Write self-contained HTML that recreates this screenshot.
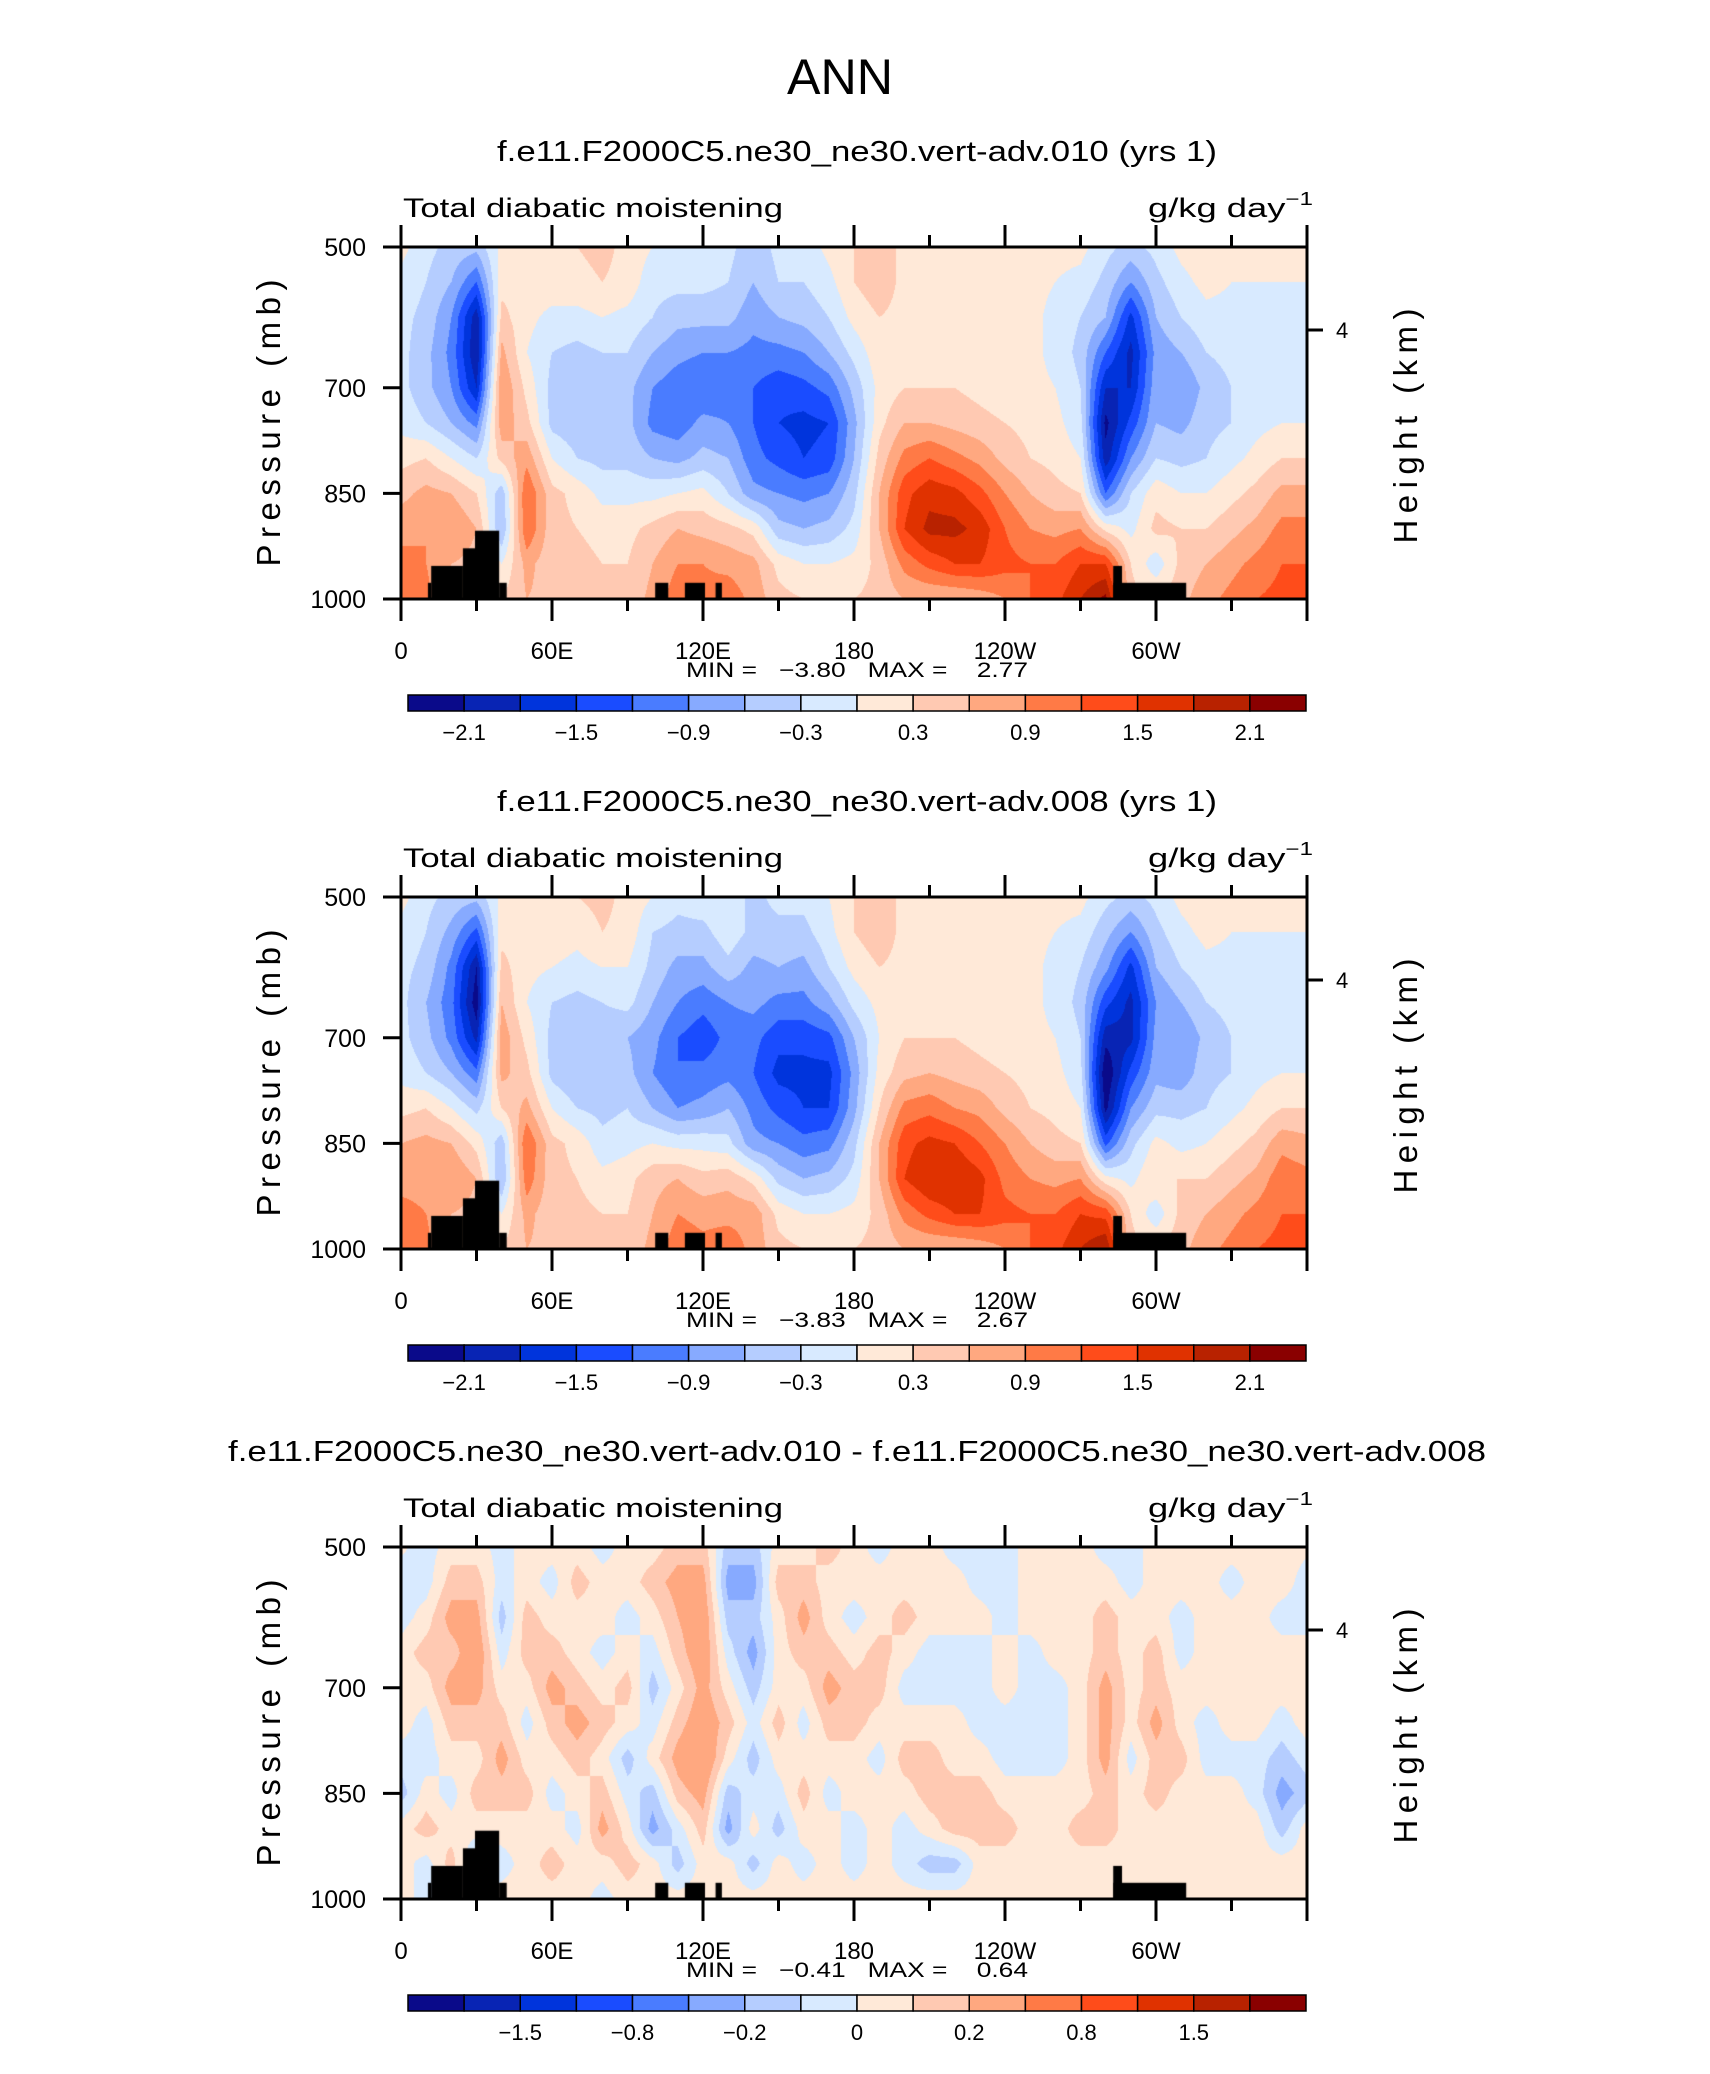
<!DOCTYPE html>
<html><head><meta charset="utf-8"><style>
html,body{margin:0;padding:0;background:#fff;}
#root{position:relative;width:1710px;height:2074px;overflow:hidden;background:#fff;}
canvas{position:absolute;}
svg{position:absolute;left:0;top:0;}
text{font-family:"Liberation Sans",sans-serif;fill:#000;}
.pre{white-space:pre;}
</style></head><body>
<div id="root">
<svg id="svg" width="1710" height="2074">
<text x="840" y="94" font-size="50" text-anchor="middle" textLength="106" lengthAdjust="spacingAndGlyphs" font-weight="300">ANN</text>
</svg>
</div>
<script>
// ---- data: columns at lon 0,10,...,360; each column levels 500,550,...,1000 mb ----
const lons = [0,10,20,30,40,50,60,70,80,90,100,110,120,130,140,150,160,170,180,190,200,210,220,230,240,250,260,270,280,290,300,310,320,330,340,350,360];
const levels = [500,550,600,650,700,750,800,850,900,950,1000];
const xTickLabels = ["0","60E","120E","180","120W","60W"];
const xTickLons = [0,60,120,180,240,300];
const yTickLabels = ["500","700","850","1000"];
const yTickValues = [500,700,850,1000];
const cbLabels1 = ["-2.1","-1.5","-0.9","-0.3","0.3","0.9","1.5","2.1"];
const cbLevels1 = [-2.1,-1.8,-1.5,-1.2,-0.9,-0.6,-0.3,0,0.3,0.6,0.9,1.2,1.5,1.8,2.1];
const cbLabels3 = ["-1.5","-0.8","-0.2","0","0.2","0.8","1.5"];
const cbLevels3 = [-2,-1.5,-1,-0.8,-0.4,-0.2,-0.1,0,0.1,0.2,0.4,0.8,1,1.5,2];
const palette = ["#0a0a8a","#0824b4","#0034dc","#1a4cff","#4a7cff","#87aaff","#b5cdff","#d8eaff","#ffe9d8","#ffc9b2","#ffa880","#ff7a46","#ff4c1a","#e03200","#b82200","#8a0000"];
// topography: [lonStart, lonEnd, topPressure]
const topo = [[10.7,12,977],[12,24.6,953],[24.6,29.4,928],[29.4,39,903],[39,42,977],[101,106.2,977],[112.8,120.8,977],[125,127.5,977],[283,286.5,953],[283,312,977]];

const data1 = [
[0.1,-0.1,-0.2,-0.2,-0.2,-0.1,0.2,0.5,0.8,1.0,1.2],
[-0.2,-0.3,-0.4,-0.5,-0.5,-0.3,0.3,0.7,0.9,0.9,1.0],
[-0.4,-0.6,-0.9,-1.0,-0.9,-0.6,0.0,0.6,0.9,0.6,0.5],
[-0.5,-1.2,-2.0,-2.1,-1.8,-1.0,-0.3,0.3,0.6,0.5,0.5],
[0.1,0.2,0.4,0.7,0.9,0.8,0.4,-0.5,-0.6,0.0,0.3],
[0.2,0.2,0.1,0.0,0.2,0.4,0.8,1.2,1.2,0.7,0.6],
[0.2,0.2,-0.1,-0.3,-0.4,-0.4,0.0,0.4,0.4,0.4,0.5],
[0.3,0.2,-0.1,-0.4,-0.5,-0.5,-0.3,0.2,0.3,0.4,0.5],
[0.4,0.3,0.0,-0.3,-0.5,-0.5,-0.4,-0.1,0.2,0.3,0.4],
[0.2,0.2,-0.1,-0.3,-0.5,-0.5,-0.4,-0.1,0.2,0.3,0.4],
[0.0,-0.2,-0.3,-0.6,-0.9,-1.0,-0.6,-0.1,0.4,0.6,0.7],
[-0.1,-0.2,-0.5,-0.8,-1.1,-1.1,-0.7,0.0,0.6,0.9,1.1],
[0.0,-0.2,-0.5,-0.9,-1.2,-0.8,-0.5,0.1,0.5,0.9,1.0],
[-0.2,-0.3,-0.5,-0.9,-1.1,-0.9,-0.6,-0.3,0.4,0.8,1.1],
[-0.5,-0.6,-0.8,-1.0,-1.2,-1.2,-1.1,-0.8,0.2,0.7,0.8],
[-0.2,-0.3,-0.6,-1.0,-1.4,-1.5,-1.3,-0.9,-0.5,0.2,0.4],
[-0.2,-0.3,-0.5,-0.9,-1.3,-1.6,-1.5,-1.0,-0.6,0.0,0.3],
[0.1,-0.1,-0.3,-0.6,-1.1,-1.5,-1.4,-0.9,-0.5,0.0,0.3],
[0.3,0.3,0.1,-0.2,-0.5,-0.7,-0.6,-0.4,-0.2,0.1,0.3],
[0.5,0.5,0.3,0.2,0.1,0.2,0.4,0.6,0.6,0.4,0.4],
[0.2,0.2,0.2,0.2,0.3,0.6,1.0,1.4,1.5,1.0,0.6],
[0.1,0.1,0.1,0.2,0.3,0.6,1.2,1.7,1.9,1.3,0.6],
[0.1,0.1,0.1,0.1,0.3,0.5,1.0,1.6,1.9,1.5,0.6],
[0.1,0.1,0.1,0.1,0.2,0.4,0.8,1.3,1.7,1.5,0.7],
[0.1,0.1,0.1,0.1,0.1,0.3,0.5,0.9,1.2,1.3,0.9],
[0.1,0.1,0.1,0.1,0.1,0.2,0.3,0.6,0.9,1.2,1.2],
[0.1,0.0,-0.1,-0.1,0.0,0.1,0.2,0.4,0.8,1.2,1.4],
[0.1,-0.1,-0.3,-0.4,-0.3,-0.2,0.0,0.3,0.9,1.5,1.8],
[-0.2,-0.4,-0.6,-1.2,-1.8,-2.2,-2.0,-1.2,0.2,1.5,2.2],
[-0.4,-0.9,-1.6,-1.9,-1.8,-1.4,-0.9,-0.3,-0.1,0.3,0.4],
[-0.2,-0.4,-0.6,-0.8,-0.7,-0.6,-0.3,0.2,0.4,-0.2,0.3],
[0.1,-0.1,-0.3,-0.6,-0.9,-0.7,-0.4,0.0,0.3,0.4,0.5],
[0.2,0.1,-0.1,-0.3,-0.5,-0.4,-0.3,0.0,0.3,0.6,0.8],
[0.1,0.0,-0.1,-0.2,-0.3,-0.3,-0.1,0.2,0.5,0.8,1.0],
[0.1,0.0,-0.1,-0.2,-0.2,-0.1,0.1,0.4,0.7,1.0,1.2],
[0.1,0.0,-0.1,-0.2,-0.2,0.0,0.3,0.7,1.0,1.2,1.3],
[0.1,0.0,-0.1,-0.2,-0.2,0.0,0.3,0.7,1.0,1.2,1.4]];

const data2 = [
[0.1,-0.1,-0.2,-0.2,-0.2,-0.1,0.2,0.6,0.8,1.0,1.2],
[-0.2,-0.3,-0.4,-0.6,-0.5,-0.3,0.3,0.7,0.8,0.9,1.0],
[-0.4,-0.7,-1.0,-1.1,-1.0,-0.6,0.0,0.6,0.9,0.6,0.5],
[-0.5,-1.3,-2.1,-2.3,-1.9,-1.1,-0.4,0.2,0.6,0.5,0.5],
[0.1,0.2,0.4,0.6,0.8,0.7,0.3,-0.5,-0.6,0.0,0.3],
[0.2,0.2,0.1,0.0,0.2,0.4,0.7,1.2,1.1,0.7,0.6],
[0.2,0.2,0.0,-0.3,-0.4,-0.4,0.0,0.4,0.4,0.4,0.5],
[0.3,0.1,-0.1,-0.4,-0.6,-0.6,-0.3,0.2,0.3,0.4,0.5],
[0.4,0.3,0.0,-0.3,-0.5,-0.6,-0.4,-0.2,0.1,0.3,0.4],
[0.2,0.2,0.0,-0.2,-0.6,-0.5,-0.3,-0.1,0.2,0.3,0.4],
[0.0,-0.3,-0.4,-0.6,-0.8,-0.9,-0.6,0.0,0.5,0.6,0.7],
[-0.2,-0.4,-0.7,-0.9,-1.2,-1.2,-0.9,-0.1,0.6,0.9,1.1],
[-0.1,-0.4,-0.7,-1.1,-1.4,-1.1,-0.8,-0.1,0.4,0.8,1.0],
[-0.1,-0.1,-0.4,-0.9,-1.1,-1.0,-0.6,-0.2,0.5,0.8,1.1],
[-0.4,-0.4,-0.7,-0.8,-1.1,-1.2,-1.0,-0.8,0.2,0.8,0.8],
[-0.2,-0.4,-0.6,-1.0,-1.4,-1.6,-1.3,-0.9,-0.4,0.2,0.4],
[-0.2,-0.4,-0.7,-1.0,-1.4,-1.6,-1.5,-1.1,-0.6,0.0,0.3],
[0.0,-0.1,-0.3,-0.7,-1.3,-1.6,-1.5,-1.0,-0.5,0.0,0.3],
[0.3,0.3,0.1,-0.2,-0.6,-0.8,-0.7,-0.4,-0.2,0.1,0.3],
[0.5,0.5,0.3,0.1,0.0,0.1,0.3,0.6,0.6,0.4,0.4],
[0.2,0.2,0.2,0.2,0.3,0.5,1.0,1.4,1.5,1.0,0.6],
[0.1,0.1,0.1,0.2,0.3,0.6,1.1,1.6,1.8,1.3,0.6],
[0.1,0.1,0.1,0.1,0.3,0.5,0.9,1.5,1.8,1.5,0.6],
[0.1,0.1,0.1,0.1,0.2,0.4,0.8,1.2,1.6,1.5,0.7],
[0.1,0.1,0.1,0.1,0.1,0.3,0.5,0.9,1.1,1.3,0.9],
[0.1,0.1,0.1,0.1,0.1,0.2,0.3,0.6,0.9,1.2,1.2],
[0.1,0.0,-0.1,-0.1,0.0,0.1,0.2,0.4,0.8,1.2,1.4],
[0.1,-0.1,-0.3,-0.4,-0.3,-0.2,0.0,0.3,0.9,1.5,1.8],
[-0.2,-0.5,-0.8,-1.4,-2.0,-2.4,-2.2,-1.3,0.1,1.4,2.1],
[-0.4,-0.9,-1.6,-1.9,-1.9,-1.4,-0.9,-0.4,-0.1,0.3,0.4],
[-0.2,-0.4,-0.6,-0.9,-0.8,-0.7,-0.4,0.1,0.3,-0.2,0.3],
[0.1,-0.1,-0.3,-0.6,-0.9,-0.8,-0.4,-0.1,0.3,0.4,0.5],
[0.2,0.1,-0.1,-0.3,-0.5,-0.4,-0.3,0.0,0.3,0.6,0.8],
[0.1,0.0,-0.1,-0.2,-0.3,-0.3,-0.1,0.2,0.5,0.8,1.0],
[0.1,0.0,-0.1,-0.2,-0.2,-0.1,0.1,0.4,0.7,1.0,1.2],
[0.1,0.0,-0.1,-0.2,-0.2,0.0,0.3,0.8,1.1,1.2,1.3],
[0.1,0.0,-0.1,-0.2,-0.2,0.0,0.3,0.7,1.0,1.2,1.4]];

const data3 = [
[0.02,-0.05,-0.05,0.05,0.05,0.05,-0.05,-0.15,0.05,0.05,0.05],
[-0.05,-0.05,0.05,0.15,0.05,-0.05,-0.05,0.05,0.15,-0.05,-0.05],
[0.05,0.15,0.25,0.15,0.25,0.15,0.05,-0.05,0.05,0.15,0.05],
[0.05,0.15,0.25,0.3,0.25,0.15,0.05,0.15,0.05,-0.15,0.05],
[-0.05,-0.05,-0.15,-0.05,0.05,0.15,0.25,0.15,0.05,-0.05,0.05],
[0.05,0.05,0.15,0.15,0.05,-0.05,0.05,0.15,0.05,0.05,0.05],
[0.05,-0.05,0.05,0.15,0.25,0.15,0.05,-0.05,0.05,0.15,0.05],
[0.05,0.15,0.05,0.05,0.15,0.25,0.15,0.05,-0.05,0.05,0.05],
[-0.05,0.05,0.05,-0.05,0.05,0.15,0.05,0.15,0.25,0.05,-0.05],
[0.05,0.05,-0.05,0.05,0.15,0.05,-0.15,-0.05,0.05,0.15,0.05],
[0.05,0.15,0.05,-0.05,-0.15,-0.05,0.05,-0.15,-0.25,0.05,0.05],
[0.15,0.25,0.2,0.15,0.05,0.15,0.25,0.15,-0.05,-0.15,0.05],
[0.15,0.25,0.3,0.3,0.25,0.3,0.35,0.25,0.15,0.05,0.05],
[-0.15,-0.25,-0.15,-0.05,0.05,0.15,0.05,-0.15,-0.25,0.05,0.05],
[-0.15,-0.25,-0.15,-0.25,-0.15,-0.05,-0.15,-0.05,0.05,-0.15,0.05],
[0.05,0.15,0.05,0.05,0.05,0.15,0.05,-0.05,-0.15,0.05,0.05],
[0.05,0.15,0.25,0.15,0.05,-0.05,0.05,0.15,0.05,-0.05,0.05],
[0.15,0.05,0.05,0.15,0.25,0.15,0.05,-0.05,0.05,0.05,0.05],
[0.05,0.05,-0.05,0.05,0.15,0.15,0.05,0.05,-0.05,-0.05,0.05],
[-0.05,0.05,0.05,0.15,0.15,0.05,-0.05,0.05,0.05,0.05,0.05],
[0.05,0.05,0.15,0.05,-0.05,0.05,0.15,0.05,-0.05,-0.05,0.05],
[0.05,0.05,0.05,-0.05,-0.05,0.05,0.15,0.15,0.05,-0.15,0.05],
[-0.05,0.05,0.05,-0.05,-0.05,0.05,0.05,0.15,0.15,-0.15,0.05],
[-0.05,-0.05,0.05,-0.05,-0.05,-0.05,0.05,0.15,0.15,0.05,0.05],
[-0.05,-0.05,-0.05,0.05,0.05,-0.05,-0.05,0.05,0.15,0.05,0.05],
[0.05,0.05,0.05,-0.05,-0.05,-0.05,-0.05,0.05,0.05,0.05,0.05],
[0.05,0.05,0.05,0.05,-0.05,-0.05,-0.05,0.05,0.05,0.05,0.05],
[0.05,0.05,0.05,0.05,0.05,0.05,0.05,0.05,0.15,0.05,0.05],
[-0.05,0.05,0.15,0.15,0.25,0.25,0.25,0.15,0.15,0.05,0.05],
[-0.05,-0.05,0.05,0.05,0.05,0.05,-0.05,0.05,0.05,0.05,0.05],
[0.05,0.05,0.05,0.15,0.15,0.25,0.15,0.15,0.05,0.05,0.05],
[0.05,0.05,-0.05,-0.05,0.05,0.05,0.15,0.05,0.05,0.05,0.05],
[0.05,0.05,0.05,0.05,0.05,-0.05,-0.05,0.05,0.05,0.05,0.05],
[0.05,-0.05,0.05,0.05,0.05,0.05,-0.05,0.05,0.05,0.05,0.05],
[0.05,0.05,0.05,0.05,0.05,0.05,-0.05,-0.05,0.05,0.05,0.05],
[0.05,0.05,-0.05,0.05,0.05,-0.05,-0.15,-0.25,-0.15,0.05,0.05],
[0.02,-0.05,-0.05,0.05,0.05,0.05,-0.05,-0.15,0.05,0.05,0.05]];

const titles = ["f.e11.F2000C5.ne30_ne30.vert-adv.010 (yrs 1)","f.e11.F2000C5.ne30_ne30.vert-adv.008 (yrs 1)","f.e11.F2000C5.ne30_ne30.vert-adv.010 - f.e11.F2000C5.ne30_ne30.vert-adv.008"];
const minMax = [["-3.80","2.77"],["-3.83","2.67"],["-0.41","0.64"]];

const PL=401, PW=906, PH=352;
const panelTops=[247,897,1547];
const titleLens=[720,720,1258];
const NS="http://www.w3.org/2000/svg";
const svg=document.getElementById('svg');
const root=document.getElementById('root');

function xOf(lon){return PL + lon/360*PW;}
function yOf(p,top){return top + (p-500)/500*PH;}
function mk(tag,attrs,txt){const e=document.createElementNS(NS,tag);for(const k in attrs)e.setAttribute(k,attrs[k]);if(txt!==undefined)e.textContent=txt;svg.appendChild(e);return e;}
function levelIndex(v,lv){let i=0;while(i<lv.length&&v>=lv[i])i++;return i;}
function hex(c){return [parseInt(c.slice(1,3),16),parseInt(c.slice(3,5),16),parseInt(c.slice(5,7),16)];}
const pal=palette.map(hex);

function sample(data,lon,p){
  let fx=lon/10, fy=(p-500)/50;
  let i=Math.min(Math.floor(fx),35), j=Math.min(Math.floor(fy),9);
  let tx=fx-i, ty=fy-j;
  const a=data[i][j],b=data[i+1][j],c=data[i][j+1],d=data[i+1][j+1];
  return (a*(1-tx)+b*tx)*(1-ty)+(c*(1-tx)+d*tx)*ty;
}

const datasets=[data1,data2,data3];
const cbLevs=[cbLevels1,cbLevels1,cbLevels3];
const cbLabs=[cbLabels1,cbLabels1,cbLabels3];
const cbLabelStart=[1,1,2];

for(let k=0;k<3;k++){
  const top=panelTops[k], data=datasets[k], lv=cbLevs[k];
  const cv=document.createElement('canvas');
  cv.width=PW;cv.height=PH;cv.style.left=PL+'px';cv.style.top=top+'px';
  
  
  root.insertBefore(cv,svg);
  const ctx=cv.getContext('2d');
  const img=ctx.createImageData(PW,PH);
  for(let y=0;y<PH;y++){
    const p=500+(y+0.5)/PH*500;
    for(let x=0;x<PW;x++){
      const lon=(x+0.5)/PW*360;
      const v=sample(data,lon,p);
      const c=pal[levelIndex(v,lv)];
      const o=(y*PW+x)*4;
      img.data[o]=c[0];img.data[o+1]=c[1];img.data[o+2]=c[2];img.data[o+3]=255;
    }
  }
  ctx.putImageData(img,0,0);
  ctx.fillStyle='#000';
  topo.forEach(t=>{
    const x0=t[0]/360*PW, x1=t[1]/360*PW, y0=(t[2]-500)/500*PH;
    ctx.fillRect(x0,y0,x1-x0,PH-y0);
  });
  const fr=mk('rect',{x:PL,y:top,width:PW,height:PH,fill:'none',stroke:'#000','stroke-width':3});
  
  
  for(let lon=0;lon<=360;lon+=30){
    const major=lon%60===0, len=major?22:12, x=xOf(lon);
    const t1=mk('line',{x1:x,y1:top,x2:x,y2:top-len,stroke:'#000','stroke-width':3});
    
    
    const t2=mk('line',{x1:x,y1:top+PH,x2:x,y2:top+PH+len,stroke:'#000','stroke-width':3});
    
    
  }
  xTickLabels.forEach((s,i)=>{
    const t=mk('text',{x:xOf(xTickLons[i]),y:top+PH+60,'font-size':24,'text-anchor':'middle'},s);
    
    
  });
  yTickValues.forEach((p,i)=>{
    const y=yOf(p,top);
    const l=mk('line',{x1:PL-18,y1:y,x2:PL,y2:y,stroke:'#000','stroke-width':3});
    
    
    const t=mk('text',{x:366,y:y+9,'font-size':25,'text-anchor':'end'},yTickLabels[i]);
    
    
  });
  const rt=mk('line',{x1:PL+PW,y1:top+83,x2:PL+PW+16,y2:top+83,stroke:'#000','stroke-width':3});
  
  
  const rl=mk('text',{x:1336,y:top+91,'font-size':22},'4');
  
  
  const ya=mk('text',{x:0,y:0,'font-size':33,'text-anchor':'middle',textLength:287,lengthAdjust:'spacing',transform:`translate(280,${top+176}) rotate(-90)`},'Pressure (mb)');
  
  
  const ya2=mk('text',{x:0,y:0,'font-size':33,'text-anchor':'middle',textLength:235,lengthAdjust:'spacing',transform:`translate(1417,${top+179}) rotate(-90)`},'Height (km)');
  
  
  const ti=mk('text',{x:857,y:top-86,'font-size':29,'text-anchor':'middle',textLength:titleLens[k],lengthAdjust:'spacingAndGlyphs'},titles[k]);
  
  
  const vl=mk('text',{x:403,y:top-30,'font-size':27,textLength:380,lengthAdjust:'spacingAndGlyphs'},'Total diabatic moistening');
  
  
  const un=mk('text',{x:1313,y:top-30,'font-size':27,'text-anchor':'end',textLength:165,lengthAdjust:'spacingAndGlyphs'});
  
  
  un.innerHTML='g/kg day<tspan dy="-12" font-size="18">−1</tspan>';
  const mm=mk('text',{x:857,y:top+430,'font-size':21,'text-anchor':'middle','class':'pre',textLength:342,lengthAdjust:'spacingAndGlyphs'},'MIN =   '+minMax[k][0].replace('-','−')+'   MAX =    '+minMax[k][1]);
  
  
  const cbx=408, cbw=898/16, cby=top+448, cbh=16;
  for(let i=0;i<16;i++){
    const r=mk('rect',{x:cbx+i*cbw,y:cby,width:cbw,height:cbh,fill:palette[i],stroke:'#000','stroke-width':1.5});
    
    
  }
  cbLabs[k].forEach((s,i)=>{
    const t=mk('text',{x:cbx+(2*i+cbLabelStart[k])*cbw,y:top+493,'font-size':22,'text-anchor':'middle'},s.replace('-','−'));
    
    
  });
}
</script>
</body></html>
